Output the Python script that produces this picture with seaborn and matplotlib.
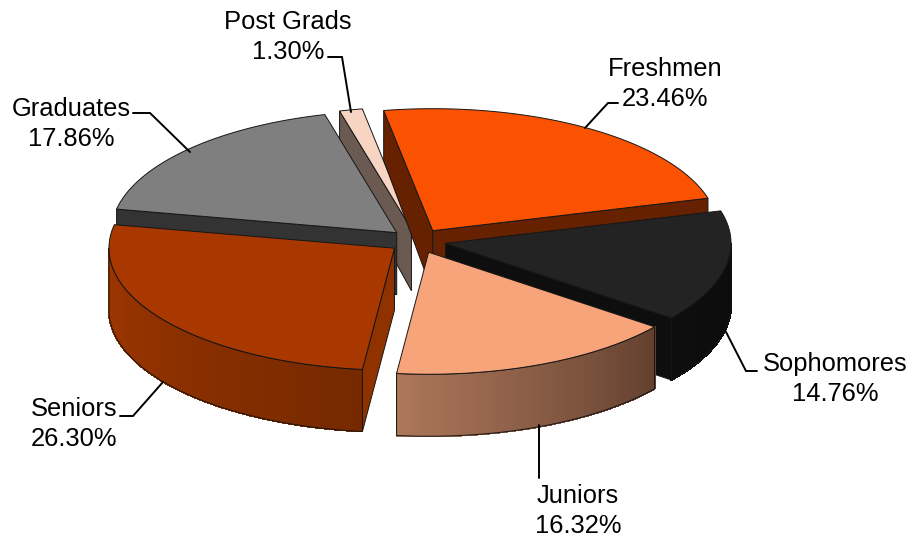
import numpy as np
import matplotlib
matplotlib.use('Agg')
import matplotlib.pyplot as plt
import seaborn as sns

# Slices, clockwise from the back of the pie
labels = ['Freshmen', 'Sophomores', 'Juniors', 'Seniors', 'Graduates', 'Post Grads']
shares = [23.46, 14.76, 16.32, 26.30, 17.86, 1.30]

top_colors = ['#FA5200', '#232323', '#F7A47A', '#A83800', '#7F7F7F', '#F8D5C2']
cut_colors = ['#662200', '#0E0E0E', '#63402F', '#8F3200', '#333333', '#6A5A52']
wall_left = ['#662200', '#0E0E0E', '#AD775A', '#A03700', '#333333', '#6A5A52']
wall_right = ['#662200', '#0C0C0C', '#63402F', '#762900', '#333333', '#6A5A52']

# back to front
draw_order = ['Post Grads', 'Graduates', 'Freshmen', 'Sophomores', 'Juniors', 'Seniors']

# pie geometry, in figure pixels
cx, cy = 417.5, 241
rx, ry = 285.5, 122
explode = 0.1
start_angle = -9.9

label_pos = {
    'Freshmen': (665, 84),
    'Sophomores': (835, 379),
    'Juniors': (578, 511),
    'Seniors': (74, 424),
    'Graduates': (71, 124),
    'Post Grads': (288, 37),
}
leaders = {
    'Freshmen': ([585, 608, 618], [128, 103, 103]),
    'Sophomores': ([725, 746, 757], [330, 371, 371]),
    'Juniors': ([539, 539], [425, 478]),
    'Seniors': ([163, 133, 120], [382, 416, 416]),
    'Graduates': ([190, 150, 133], [152, 113, 113]),
    'Post Grads': ([351, 342, 328], [112, 57, 57]),
}

EDGE = '#161616'

sns.set_style('white')
plt.rcParams['font.family'] = ['Liberation Sans', 'DejaVu Sans']

fig = plt.figure(figsize=(9.14, 5.39), dpi=100)
ax = fig.add_axes([0, 0, 1, 1])
ax.set_xlim(0, 914)
ax.set_ylim(539, 0)
ax.axis('off')


def depth_at(y):
    # slight perspective: the far side of the pie is a bit thinner
    return np.minimum(62, 50 + 0.1 * (y - 112))


def arc_points(tip, a0, a1, n=80):
    t = np.radians(np.linspace(a0, a1, n))
    return tip[0] + rx * np.sin(t), tip[1] - ry * np.cos(t)


def slice_is_above(tip, ex, ey, mid):
    # a cut face shows only when the slice lies above its edge on screen
    dx, dy = ex - tip[0], ey - tip[1]
    nx, ny = -dy, dx
    if ny < 0:
        nx, ny = -nx, -ny
    return nx * rx * np.sin(mid) - ny * ry * np.cos(mid) < 0


def draw_slice(i):
    a0 = start_angle + sum(shares[:i]) * 3.6
    a1 = a0 + shares[i] * 3.6
    mid = np.radians((a0 + a1) / 2)
    tip = (cx + explode * rx * np.sin(mid), cy - explode * ry * np.cos(mid))
    x, y = arc_points(tip, a0, a1)

    # cut faces
    for ex, ey in [(x[0], y[0]), (x[-1], y[-1])]:
        if slice_is_above(tip, ex, ey, mid):
            ax.fill([tip[0], ex, ex, tip[0]],
                    [tip[1], ey, ey + depth_at(ey), tip[1] + depth_at(tip[1])],
                    facecolor=cut_colors[i], edgecolor=EDGE, linewidth=0.7)

    # outer wall, only the part that faces the viewer
    w0, w1 = max(a0, 90), min(a1, 270)
    if w1 > w0:
        wx, wy = arc_points(tip, w0, w1, 121)
        shades = sns.blend_palette([wall_left[i], wall_right[i]], 120)
        order = np.argsort(wx)
        wx, wy = wx[order], wy[order]
        low = wy + depth_at(wy)
        for k in range(120):
            ax.fill([wx[k], wx[k + 1], wx[k + 1], wx[k]],
                    [wy[k], wy[k + 1], low[k + 1], low[k]],
                    facecolor=shades[k], edgecolor=shades[k], linewidth=0.8,
                    antialiased=False)
        ax.fill(np.r_[wx, wx[::-1]], np.r_[wy, low[::-1]],
                facecolor='none', edgecolor=EDGE, linewidth=0.7)

    # top face
    ax.fill(np.r_[tip[0], x], np.r_[tip[1], y],
            facecolor=top_colors[i], edgecolor=EDGE, linewidth=0.7)


for name in draw_order:
    draw_slice(labels.index(name))

for name, share in zip(labels, shares):
    lx, ly = leaders[name]
    ax.plot(lx, ly, color='black', linewidth=1.4, solid_joinstyle='miter')
    px, py = label_pos[name]
    ax.text(px, py, f'{name}\n{share:.2f}%', ha='center', va='center',
            fontsize=18.4, color='black', linespacing=1.27)

fig.savefig('out.png', dpi=100)
